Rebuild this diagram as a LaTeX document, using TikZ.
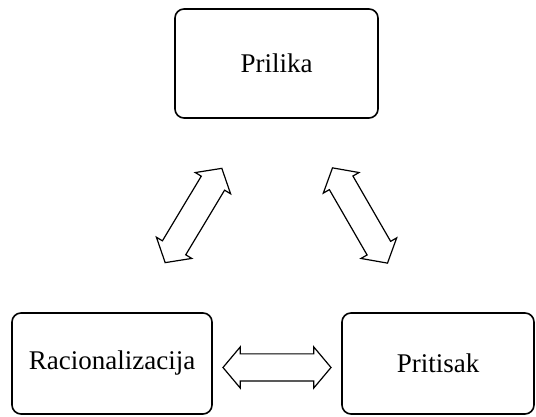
\documentclass[tikz,border=0pt]{standalone}
\usepackage{fontspec}
\setmainfont{Liberation Serif}
\usepackage{tikz}
\usetikzlibrary{shapes.arrows}
\usetikzlibrary{calc}

\tikzset{
    factor/.style={draw, line width=1.6pt, rounded corners=9pt,
        font=\fontsize{27}{32}\selectfont},
    link/.style={draw, double arrow, line width=1.2pt, inner sep=0pt,
        text width=0pt, text height=13pt, text depth=13pt,
        minimum height=110pt,
        double arrow head extend=7pt, double arrow tip angle=100},
}

\begin{document}
  \begin{tikzpicture}[x=1pt,y=1pt]
      \useasboundingbox (0,0) rectangle (536,417);

      \node [factor, minimum width=203pt, minimum height=109pt] (prilika) at (276.5,353.5) {Prilika};
      \node [factor, minimum width=200pt, minimum height=101pt] (racio) at (112,53.5) {Racionalizacija};
      \node [factor, minimum width=192pt, minimum height=101pt] (pritisak) at (438,53.5) {Pritisak};

      \node [link, rotate=59] (lijevo) at ($(prilika.south west)!0.5!(racio.north east)$) {};
      \node [link, rotate=-60] (desno) at ($(prilika.south east)!0.5!(pritisak.north west)$) {};
      \node [link, minimum height=108pt, yshift=-4pt] (dolje) at ($(racio.east)!0.5!(pritisak.west)$) {};
  \end{tikzpicture}
\end{document}
